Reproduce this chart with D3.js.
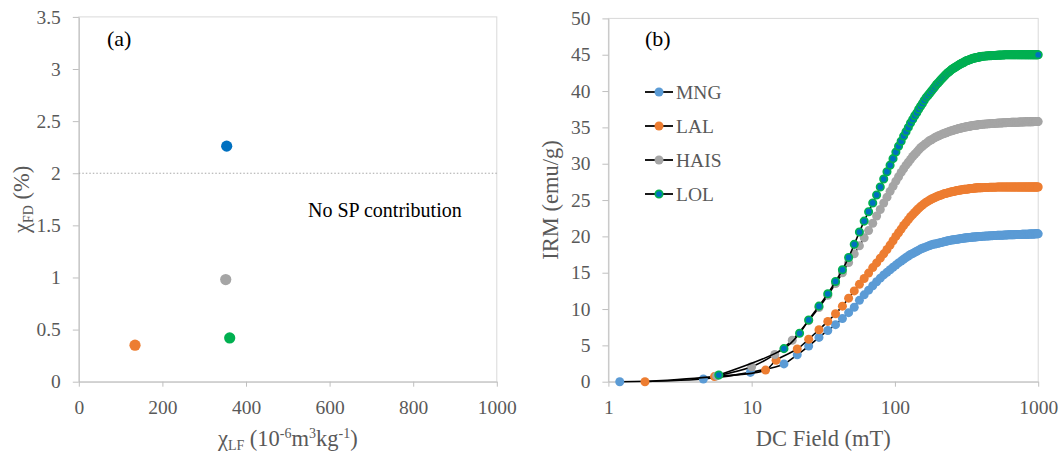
<!DOCTYPE html>
<html>
<head>
<meta charset="utf-8">
<script src="https://cdn.jsdelivr.net/npm/d3@7"></script>
<style>
  body { margin: 0; background: #fff; }
  svg { display: block; }
  svg text { font-family: "Times New Roman", "Liberation Serif", "DejaVu Serif", serif !important; }
</style>
</head>
<body>
<svg id="chart" width="1059" height="452" font-family="Times New Roman, Liberation Serif, DejaVu Serif, serif"></svg>
<script>
// ---------- Panel (a): frequency-dependent vs low-field susceptibility ----------
const sampleNames = ["MNG", "LAL", "HAIS", "LOL"];
const chiLF = [353.8, 134.5, 351.5, 361.0];
const chiFD = [2.26, 0.35, 0.98, 0.42];
const scatterColors = ["#0070C0", "#ED7D31", "#A5A5A5", "#00B050"];
const chiLFTicks = [0, 200, 400, 600, 800, 1000];
const chiFDTicks = [0, 0.5, 1, 1.5, 2, 2.5, 3, 3.5];
const spThreshold = 2;

// ---------- Panel (b): IRM acquisition curves ----------
// low-field steps, measured separately for each sample (mT, emu/g)
const mngLowField = [1.2, 4.6, 9.8, 16.8, 20.8];
const mngLowIRM   = [0, 0.37, 1.28, 2.45, 3.7];
const lalLowField = [1.8, 5.5, 12.5, 14.8, 20.8];
const lalLowIRM   = [0, 0.7, 1.6, 2.95, 4.5];
const haisLowField = [5.7, 10.0, 14.5, 19.2];
const haisLowIRM   = [0.8, 2.06, 3.75, 5.7];
const lolLowField = [5.9, 16.8, 21.6];
const lolLowIRM   = [0.92, 4.55, 6.66];

// common field steps from 25 mT up to 1000 mT
const fieldGrid = [
  25, 29.5, 34, 38.5, 43, 47.5, 52, 56.5, 61, 65.5, 70, 74.5, 79, 83.5, 88, 92.5,
  97, 101.5, 106, 110.5, 115, 119.5, 124, 128.5, 133, 137.5, 142, 146.5, 151, 155.5, 160,
  165, 170, 175, 180, 185, 190, 195, 200,
  205, 210, 215, 220, 225, 230, 235, 240, 245, 250,
  255, 260, 265, 270, 275, 280, 285, 290, 295, 300,
  305, 310, 315, 320, 325, 330, 335, 340, 345, 350,
  355, 360, 365, 370, 375, 380, 385, 390, 395, 400,
  410, 420, 430, 440, 450, 460, 470, 480, 490, 500,
  510, 520, 530, 540, 550, 560, 570, 580, 590, 600,
  610, 620, 630, 640, 650, 660, 670, 680, 690, 700,
  710, 720, 730, 740, 750, 760, 770, 780, 790, 800,
  810, 820, 830, 840, 850, 860, 870, 880, 890, 900,
  910, 920, 930, 940, 950, 960, 970, 980, 990, 1000
];
const mngIRM = [
  4.9, 6.1, 7.05, 7.85, 8.7, 9.5, 10.25, 11.2, 11.95, 12.6, 13.2, 13.75, 14.25, 14.7, 15.05, 15.4,
  15.75, 16.05, 16.35, 16.6, 16.85, 17.1, 17.3, 17.5, 17.65, 17.8, 17.95, 18.1, 18.25, 18.35, 18.45,
  18.55, 18.65, 18.75, 18.85, 18.9, 18.95, 19.0, 19.05,
  19.1, 19.15, 19.2, 19.25, 19.3, 19.35, 19.4, 19.45, 19.48, 19.5,
  19.52, 19.55, 19.58, 19.6, 19.62, 19.65, 19.68, 19.7, 19.72, 19.75,
  19.76, 19.78, 19.8, 19.81, 19.82, 19.84, 19.86, 19.87, 19.88, 19.9,
  19.91, 19.92, 19.93, 19.94, 19.95, 19.96, 19.97, 19.98, 19.99, 20.0,
  20.01, 20.02, 20.04, 20.05, 20.06, 20.07, 20.08, 20.1, 20.11, 20.12,
  20.13, 20.14, 20.15, 20.15, 20.16, 20.17, 20.17, 20.18, 20.19, 20.2,
  20.2, 20.21, 20.21, 20.22, 20.22, 20.23, 20.23, 20.24, 20.24, 20.25,
  20.25, 20.26, 20.26, 20.26, 20.27, 20.27, 20.28, 20.28, 20.28, 20.29,
  20.29, 20.3, 20.3, 20.3, 20.31, 20.31, 20.32, 20.32, 20.32, 20.33,
  20.33, 20.33, 20.34, 20.34, 20.34, 20.35, 20.35, 20.35, 20.35, 20.35
];
const lalIRM = [
  5.85, 7.15, 8.3, 9.35, 10.4, 11.5, 12.5, 13.4, 14.2, 14.95, 15.7, 16.35, 17.0, 17.6, 18.2, 18.8,
  19.4, 20.0, 20.5, 21.0, 21.5, 21.9, 22.3, 22.7, 23.0, 23.3, 23.6, 23.85, 24.1, 24.3, 24.5,
  24.7, 24.85, 25.0, 25.15, 25.25, 25.35, 25.45, 25.55,
  25.62, 25.7, 25.78, 25.85, 25.9, 25.95, 26.0, 26.05, 26.1, 26.15,
  26.18, 26.2, 26.25, 26.3, 26.32, 26.35, 26.38, 26.4, 26.42, 26.45,
  26.48, 26.5, 26.5, 26.5, 26.52, 26.55, 26.58, 26.6, 26.6, 26.6,
  26.62, 26.65, 26.65, 26.65, 26.68, 26.7, 26.7, 26.7, 26.7, 26.7,
  26.71, 26.72, 26.73, 26.74, 26.74, 26.75, 26.75, 26.76, 26.76, 26.77,
  26.77, 26.78, 26.78, 26.78, 26.79, 26.79, 26.79, 26.8, 26.8, 26.8,
  26.8, 26.8, 26.8, 26.8, 26.8, 26.8, 26.8, 26.8, 26.8, 26.8,
  26.8, 26.8, 26.8, 26.8, 26.8, 26.8, 26.8, 26.8, 26.8, 26.8,
  26.8, 26.8, 26.8, 26.8, 26.8, 26.8, 26.8, 26.8, 26.8, 26.8,
  26.8, 26.8, 26.8, 26.8, 26.8, 26.8, 26.8, 26.8, 26.8, 26.8
];
const haisIRM = [
  8.4, 10.2, 11.9, 13.5, 15.0, 16.4, 17.6, 18.7, 19.8, 20.8, 21.8, 22.8, 23.7, 24.6, 25.4, 26.2,
  26.9, 27.6, 28.2, 28.8, 29.3, 29.8, 30.2, 30.6, 31.0, 31.3, 31.6, 31.9, 32.2, 32.4, 32.6,
  32.8, 33.0, 33.2, 33.3, 33.45, 33.6, 33.7, 33.8,
  33.9, 34.0, 34.08, 34.15, 34.22, 34.3, 34.38, 34.45, 34.5, 34.55,
  34.6, 34.65, 34.7, 34.75, 34.8, 34.85, 34.88, 34.9, 34.95, 35.0,
  35.02, 35.05, 35.08, 35.1, 35.12, 35.15, 35.18, 35.2, 35.22, 35.25,
  35.27, 35.3, 35.3, 35.3, 35.33, 35.35, 35.37, 35.4, 35.4, 35.4,
  35.42, 35.44, 35.46, 35.48, 35.5, 35.51, 35.53, 35.54, 35.55, 35.55,
  35.57, 35.58, 35.6, 35.6, 35.6, 35.62, 35.63, 35.64, 35.65, 35.65,
  35.66, 35.67, 35.68, 35.69, 35.7, 35.7, 35.7, 35.7, 35.7, 35.7,
  35.71, 35.72, 35.72, 35.73, 35.74, 35.74, 35.75, 35.75, 35.75, 35.75,
  35.76, 35.76, 35.76, 35.77, 35.77, 35.77, 35.78, 35.78, 35.78, 35.78,
  35.79, 35.79, 35.79, 35.8, 35.8, 35.8, 35.8, 35.8, 35.8, 35.8
];
const lolIRM = [
  8.5, 10.4, 12.1, 13.8, 15.4, 17.1, 18.9, 20.6, 22.1, 23.4, 24.6, 25.7, 26.8, 27.9, 28.9, 29.8,
  30.7, 31.6, 32.4, 33.1, 33.8, 34.4, 35.0, 35.6, 36.1, 36.6, 37.0, 37.5, 37.9, 38.3, 38.7,
  39.1, 39.4, 39.7, 40.0, 40.3, 40.6, 40.9, 41.1,
  41.35, 41.6, 41.8, 42.0, 42.2, 42.4, 42.55, 42.7, 42.85, 43.0,
  43.1, 43.2, 43.3, 43.4, 43.5, 43.6, 43.7, 43.8, 43.85, 43.9,
  44.0, 44.1, 44.15, 44.2, 44.25, 44.3, 44.35, 44.4, 44.45, 44.5,
  44.52, 44.55, 44.58, 44.6, 44.62, 44.65, 44.68, 44.7, 44.72, 44.75,
  44.78, 44.8, 44.82, 44.84, 44.85, 44.87, 44.88, 44.9, 44.9, 44.9,
  44.92, 44.93, 44.94, 44.95, 44.95, 44.96, 44.97, 44.98, 44.99, 45.0,
  45.0, 45.0, 45.0, 45.0, 45.0, 45.0, 45.0, 45.0, 45.0, 45.0,
  45.0, 45.0, 45.0, 45.0, 45.0, 45.0, 45.0, 45.0, 45.0, 45.0,
  45.0, 45.0, 45.0, 45.0, 45.0, 45.0, 45.0, 45.0, 45.0, 45.0,
  45.0, 45.0, 45.0, 45.0, 45.0, 45.0, 45.0, 45.0, 45.0, 45.0
];
const fieldTicks = [1, 10, 100, 1000];
const irmTicks = [0, 5, 10, 15, 20, 25, 30, 35, 40, 45, 50];
const irmFill   = ["#5B9BD5", "#ED7D31", "#A5A5A5", "#0070C0"];
const irmStroke = ["#5B9BD5", "#ED7D31", "#A5A5A5", "#00B050"];

// ---------- shared styling ----------
const SERIF = "Times New Roman, Liberation Serif, DejaVu Serif, serif";
const TICK_FONT = "19.5px", TITLE_FONT = "22.5px";
const LABEL_COLOR = "#595959", AXIS_COLOR = "#BFBFBF", BORDER_COLOR = "#D9D9D9";

const svg = d3.select("#chart");

function styleAxis(g) {
  g.attr("font-family", SERIF);
  g.select(".domain").attr("stroke", AXIS_COLOR).attr("stroke-width", 1);
  g.selectAll(".tick line").attr("stroke", AXIS_COLOR).attr("stroke-width", 1);
  g.selectAll(".tick text").attr("fill", LABEL_COLOR)
    .attr("font-family", SERIF)
    .style("font-size", TICK_FONT);
}

function frame(x0, x1, y0, y1) {
  svg.append("rect")
    .attr("x", x0).attr("y", y1).attr("width", x1 - x0).attr("height", y0 - y1)
    .attr("fill", "none").attr("stroke", BORDER_COLOR).attr("stroke-width", 1);
}

function label(x, y, size, color, str) {
  return svg.append("text").attr("x", x).attr("y", y)
    .attr("font-family", SERIF).style("font-size", size).attr("fill", color).text(str);
}

// ================= Panel (a) =================
{
  const x = d3.scaleLinear().domain([0, 1000]).range([78.8, 496.8]);
  const y = d3.scaleLinear().domain([0, 3.5]).range([381.7, 16.9]);

  frame(x.range()[0], x.range()[1], y.range()[0], y.range()[1]);

  svg.append("g").attr("transform", `translate(0,${y(0)})`)
    .call(d3.axisBottom(x).tickValues(chiLFTicks).tickSize(5).tickSizeOuter(0).tickPadding(13).tickFormat(d3.format("d")))
    .call(styleAxis);
  svg.append("g").attr("transform", `translate(${x(0)},0)`)
    .call(d3.axisLeft(y).tickValues(chiFDTicks).tickSize(6).tickSizeOuter(0).tickPadding(12).tickFormat(d => String(d)))
    .call(styleAxis);

  // 2 % threshold for superparamagnetic contribution
  svg.append("line")
    .attr("x1", x(0)).attr("x2", x(1000))
    .attr("y1", y(spThreshold)).attr("y2", y(spThreshold))
    .attr("stroke", "#A6A6A6").attr("stroke-width", 1).attr("stroke-dasharray", "1.5,2");

  svg.append("g").selectAll("circle")
    .data(sampleNames.map((n, i) => ({ n, lf: chiLF[i], fd: chiFD[i], c: scatterColors[i] })))
    .join("circle")
    .attr("cx", d => x(d.lf)).attr("cy", d => y(d.fd)).attr("r", 5.6)
    .attr("fill", d => d.c);

  label(308, 217, "20px", "#000", "No SP contribution");
  label(107, 46, "22px", "#000", "(a)");

  // x title: χLF (10^-6 m^3 kg^-1)
  const xt = label((x.range()[0] + x.range()[1]) / 2, 446, TITLE_FONT, LABEL_COLOR, null)
    .attr("text-anchor", "middle");
  xt.append("tspan").text("χ");
  xt.append("tspan").attr("dy", 4).style("font-size", "14px").text("LF");
  xt.append("tspan").attr("dy", -4).text(" (10");
  xt.append("tspan").attr("dy", -8).style("font-size", "14px").text("-6");
  xt.append("tspan").attr("dy", 8).text("m");
  xt.append("tspan").attr("dy", -8).style("font-size", "14px").text("3");
  xt.append("tspan").attr("dy", 8).text("kg");
  xt.append("tspan").attr("dy", -8).style("font-size", "14px").text("-1");
  xt.append("tspan").attr("dy", 8).text(")");

  // y title: χFD (%)
  const yt = label(0, 0, TITLE_FONT, LABEL_COLOR, null)
    .attr("transform", `translate(28.5,${(y.range()[0] + y.range()[1]) / 2}) rotate(-90)`)
    .attr("text-anchor", "middle");
  yt.append("tspan").text("χ");
  yt.append("tspan").attr("dy", 4).style("font-size", "14px").text("FD");
  yt.append("tspan").attr("dy", -4).text(" (%)");
}

// ================= Panel (b) =================
{
  const x = d3.scaleLog().domain([1, 1000]).range([608.4, 1038.2]);
  const y = d3.scaleLinear().domain([0, 50]).range([381.7, 18.4]);

  frame(x.range()[0], x.range()[1], y.range()[0], y.range()[1]);

  svg.append("g").attr("transform", `translate(0,${y(0)})`)
    .call(d3.axisBottom(x).tickValues(fieldTicks).tickSize(5).tickSizeOuter(0).tickPadding(13).tickFormat(d3.format("d")))
    .call(styleAxis);
  svg.append("g").attr("transform", `translate(${x(1)},0)`)
    .call(d3.axisLeft(y).tickValues(irmTicks).tickSize(6).tickSizeOuter(0).tickPadding(12).tickFormat(d3.format("d")))
    .call(styleAxis);

  const lows = [
    [mngLowField, mngLowIRM], [lalLowField, lalLowIRM],
    [haisLowField, haisLowIRM], [lolLowField, lolLowIRM]
  ];
  const highs = [mngIRM, lalIRM, haisIRM, lolIRM];

  const series = sampleNames.map((name, i) => {
    const pts = lows[i][0].map((f, k) => ({ f, v: lows[i][1][k] }))
      .concat(fieldGrid.map((f, k) => ({ f, v: highs[i][k] })).filter(p => p.v != null));
    return { name, pts, fill: irmFill[i], stroke: irmStroke[i] };
  });

  const line = d3.line().x(d => x(d.f)).y(d => y(d.v)).curve(d3.curveCatmullRom.alpha(0.5));

  series.forEach(s => {
    const g = svg.append("g");
    g.append("path").attr("d", line(s.pts))
      .attr("fill", "none").attr("stroke", "#000").attr("stroke-width", 1.6);
    const ring = s.fill !== s.stroke;
    g.selectAll("circle").data(s.pts).join("circle")
      .attr("cx", d => x(d.f)).attr("cy", d => y(d.v))
      .attr("r", ring ? 3.7 : 4.5)
      .attr("fill", s.fill)
      .attr("stroke", ring ? s.stroke : "none")
      .attr("stroke-width", ring ? 1.7 : 0);
  });

  // legend
  const leg = svg.append("g");
  series.forEach((s, i) => {
    const ly = 92 + i * 34;
    leg.append("line").attr("x1", 645).attr("x2", 673).attr("y1", ly).attr("y2", ly)
      .attr("stroke", "#000").attr("stroke-width", 1.8);
    const ring = s.fill !== s.stroke;
    leg.append("circle").attr("cx", 659).attr("cy", ly).attr("r", ring ? 3.7 : 4.5)
      .attr("fill", s.fill).attr("stroke", ring ? s.stroke : "none").attr("stroke-width", ring ? 1.7 : 0);
    label(676, ly, TICK_FONT, LABEL_COLOR, s.name).attr("dy", "0.35em");
  });

  label(645, 46, "22px", "#000", "(b)");

  label((x.range()[0] + x.range()[1]) / 2, 446, TITLE_FONT, LABEL_COLOR, "DC Field (mT)")
    .attr("text-anchor", "middle");
  label(0, 0, TITLE_FONT, LABEL_COLOR, "IRM (emu/g)")
    .attr("transform", `translate(558,${(y.range()[0] + y.range()[1]) / 2}) rotate(-90)`)
    .attr("text-anchor", "middle");
}
</script>
</body>
</html>
